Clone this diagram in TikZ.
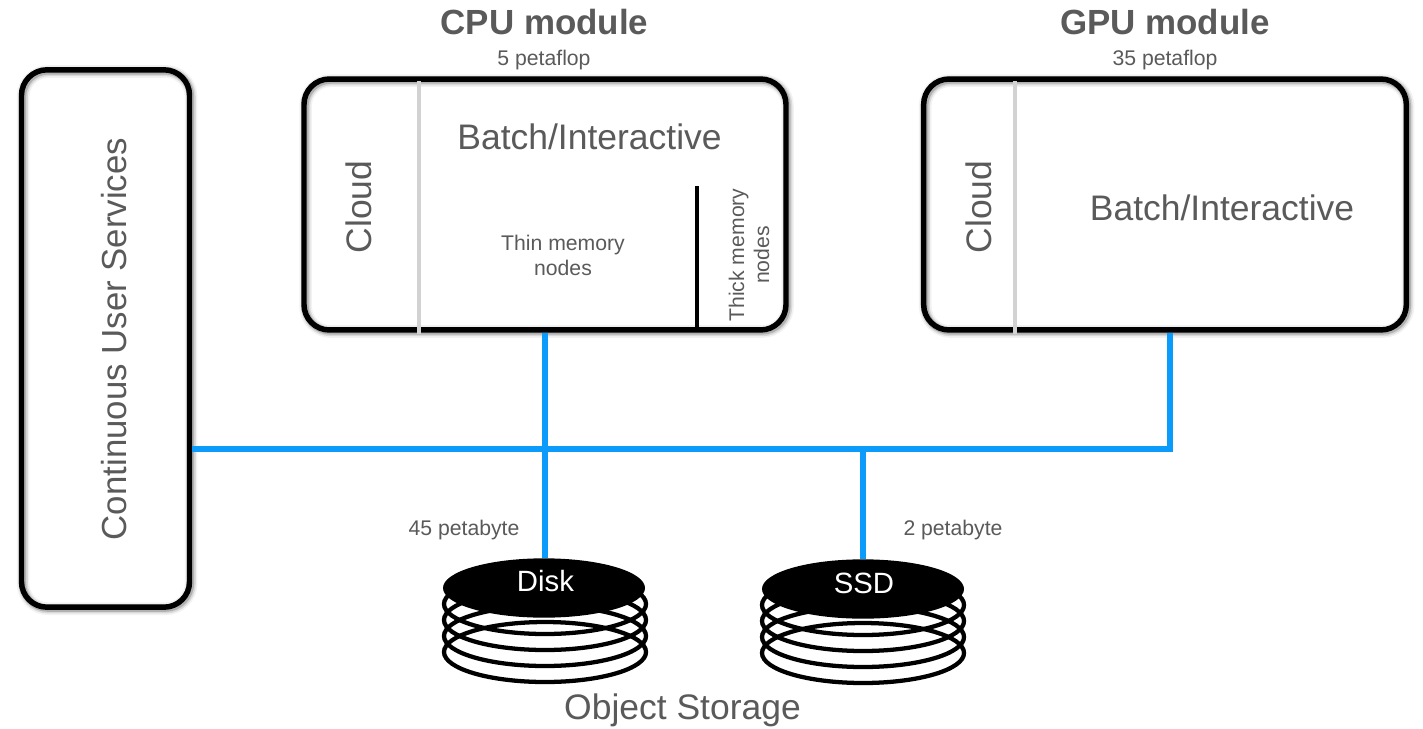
\documentclass[tikz,border=0pt]{standalone}
\usepackage{fontspec}
\setmainfont{Liberation Sans}
\usetikzlibrary{shapes.geometric}
\definecolor{txt}{HTML}{5A5A5A}
\definecolor{bus}{HTML}{0A9BFB}
\definecolor{divider}{HTML}{D2D2D2}
\tikzset{
  lbl/.style={text=txt,inner sep=0pt,outer sep=0pt,align=center},
  big/.style={lbl,font=\fontsize{26.6pt}{31pt}\selectfont},
  small/.style={lbl,font=\fontsize{15.9pt}{18.8pt}\selectfont},
  title/.style={lbl,font=\fontsize{26.2pt}{31pt}\selectfont\bfseries},
  softshadow/.style={
    preaction={draw=black,draw opacity=.05,line width=9.5pt,transform canvas={shift={(1.2pt,-1.2pt)}}},
    preaction={draw=black,draw opacity=.10,line width=7pt,transform canvas={shift={(1.2pt,-1.2pt)}}},
    preaction={draw=black,draw opacity=.18,line width=5pt,transform canvas={shift={(1.0pt,-1.0pt)}}}},
  module/.style={rectangle,rounded corners=19pt,draw=black,line width=4.1pt,inner sep=0pt,softshadow},
  busline/.style={draw=bus,line width=3.8pt},
  divline/.style={draw=divider,line width=3.6pt},
  thickdiv/.style={draw=black,line width=3.7pt},
  ring/.style={ellipse,draw=black,line width=3.2pt,minimum width=151.5pt,minimum height=45pt,inner sep=0pt,outer sep=0pt},
  platter/.style={ellipse,fill=black,draw=none,minimum width=151.5pt,minimum height=44.5pt,inner sep=0pt,outer sep=0pt},
  platterlbl/.style={lbl,text=white,font=\fontsize{22pt}{26pt}\selectfont},
}
\begin{document}
\begin{tikzpicture}[x=0.75pt,y=-0.75pt]
\useasboundingbox (0,0) rectangle (1423,728);
\fill[white] (0,0) rectangle (1423,728);
% modules
\node[module,minimum width=126pt,minimum height=403pt] (svc) at (105.5,338.5) {};
\node[module,minimum width=361.5pt,minimum height=188.2pt] (cpu) at (545,204.5) {};
\node[module,minimum width=362pt,minimum height=188.2pt] (gpu) at (1165,204.5) {};
% dividers
\coordinate (cpuDivT) at (419,81);
\coordinate (cpuDivB) at (419,334);
\coordinate (gpuDivT) at (1015,81);
\coordinate (gpuDivB) at (1015,334);
\coordinate (thickT) at (697,186);
\coordinate (thickB) at (697,330);
\draw[divline] (cpuDivT) -- (cpuDivB);
\draw[divline] (gpuDivT) -- (gpuDivB);
\draw[thickdiv] (thickT) -- (thickB);
% storage rings
\foreach \c/\cx/\dy in {a/545/0,b/863/1}{
  \foreach \n/\cy in {1/604,2/620,3/636,4/652}{
    \node[ring] (ring\c\n) at (\cx,\cy+\dy) {};
  }
}
\node[platter] (disk) at (544,588) {};
\node[platter] (ssd) at (863,589) {};
\node[platterlbl] (disklbl) at (545.5,581) {Disk};
\node[platterlbl] (ssdlbl) at (864,583) {SSD};
% bus
\coordinate (busY) at (0,449);
\coordinate (busL) at (svc.east |- busY);
\coordinate (busCpu) at (cpu.south |- busY);
\coordinate (busSsd) at (ssd.north |- busY);
\coordinate (busGpu) at (1170,449);
\coordinate (gpuPort) at (1170,333);
\coordinate (diskPort) at (cpu.south |- disk.north);
\draw[busline] (busL) -- (busGpu) -- (gpuPort);
\draw[busline] (cpu.south) -- (busCpu) -- (diskPort);
\draw[busline] (busSsd) -- (ssd.north);
% text
\node[title] (cputitle) at (544.5,22) {CPU module};
\node[small] (cpuperf) at (544,60) {5 petaflop};
\node[title] (gputitle) at (1165,22) {GPU module};
\node[small] (gpuperf) at (1165,60) {35 petaflop};
\node[big] (cpubatch) at (589.5,137) {Batch/Interactive};
\node[big] (gpubatch) at (1222,208) {Batch/Interactive};
\node[big,rotate=90] (cpucloud) at (359,207) {Cloud};
\node[big,rotate=90] (gpucloud) at (979,207) {Cloud};
\node[small] (thin) at (563,255.5) {Thin memory\\nodes};
\node[small,rotate=90] (thick) at (749,255) {Thick memory\\nodes};
\node[big,rotate=90,font=\fontsize{26.1pt}{31pt}\selectfont] (svclbl) at (114,339) {Continuous User Services};
\node[small] (diskcap) at (464,530) {45 petabyte};
\node[small] (ssdcap) at (953,530) {2 petabyte};
\node[big] (objstore) at (682.5,710) {Object Storage};
\end{tikzpicture}
\end{document}
